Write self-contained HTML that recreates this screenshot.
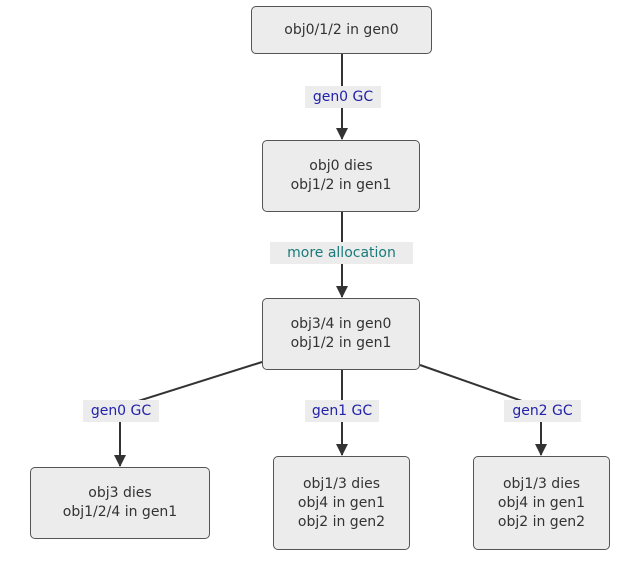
<!DOCTYPE html>
<html><head><style>
body{margin:0;width:644px;height:562px;background:#fff;position:relative;font-family:"DejaVu Sans","Liberation Sans",sans-serif;overflow:hidden}
.b{position:absolute;box-sizing:border-box;background:#ececec;border:1px solid #555;border-radius:5px;display:flex;align-items:center;justify-content:center;text-align:center;font-size:14px;line-height:19px;color:#333}
.l{position:absolute;background:#ececec;font-size:14px;color:#2222aa;display:flex;align-items:center;justify-content:center;height:22px}
svg{position:absolute;left:0;top:0}
</style></head><body>
<svg width="644" height="562">
<defs><marker id="a" markerWidth="12" markerHeight="12" refX="11" refY="6" orient="auto" markerUnits="userSpaceOnUse"><path d="M0,0L12,6L0,12z" fill="#333"/></marker></defs>
<g stroke="#333" stroke-width="2" fill="none">
<path d="M342,54V139" marker-end="url(#a)"/>
<path d="M342,212V297" marker-end="url(#a)"/>
<path d="M262,362L135,402L120,412V466" marker-end="url(#a)"/>
<path d="M342,370V455" marker-end="url(#a)"/>
<path d="M420,365L525,402L541,412V455" marker-end="url(#a)"/>
</g></svg>
<div class="b" style="left:251px;top:6px;width:181px;height:48px">obj0/1/2 in gen0</div>
<div class="b" style="left:262px;top:140px;width:158px;height:72px">obj0 dies<br>obj1/2 in gen1</div>
<div class="b" style="left:262px;top:298px;width:158px;height:72px">obj3/4 in gen0<br>obj1/2 in gen1</div>
<div class="b" style="left:30px;top:467px;width:180px;height:72px">obj3 dies<br>obj1/2/4 in gen1</div>
<div class="b" style="left:273px;top:456px;width:137px;height:94px">obj1/3 dies<br>obj4 in gen1<br>obj2 in gen2</div>
<div class="b" style="left:473px;top:456px;width:137px;height:94px">obj1/3 dies<br>obj4 in gen1<br>obj2 in gen2</div>
<div class="l" style="left:305px;top:86px;width:76px">gen0 GC</div>
<div class="l" style="left:270px;top:242px;width:143px;color:#1a7a7a">more allocation</div>
<div class="l" style="left:83px;top:400px;width:76px">gen0 GC</div>
<div class="l" style="left:305px;top:400px;width:74px">gen1 GC</div>
<div class="l" style="left:504px;top:400px;width:77px">gen2 GC</div>
</body></html>
